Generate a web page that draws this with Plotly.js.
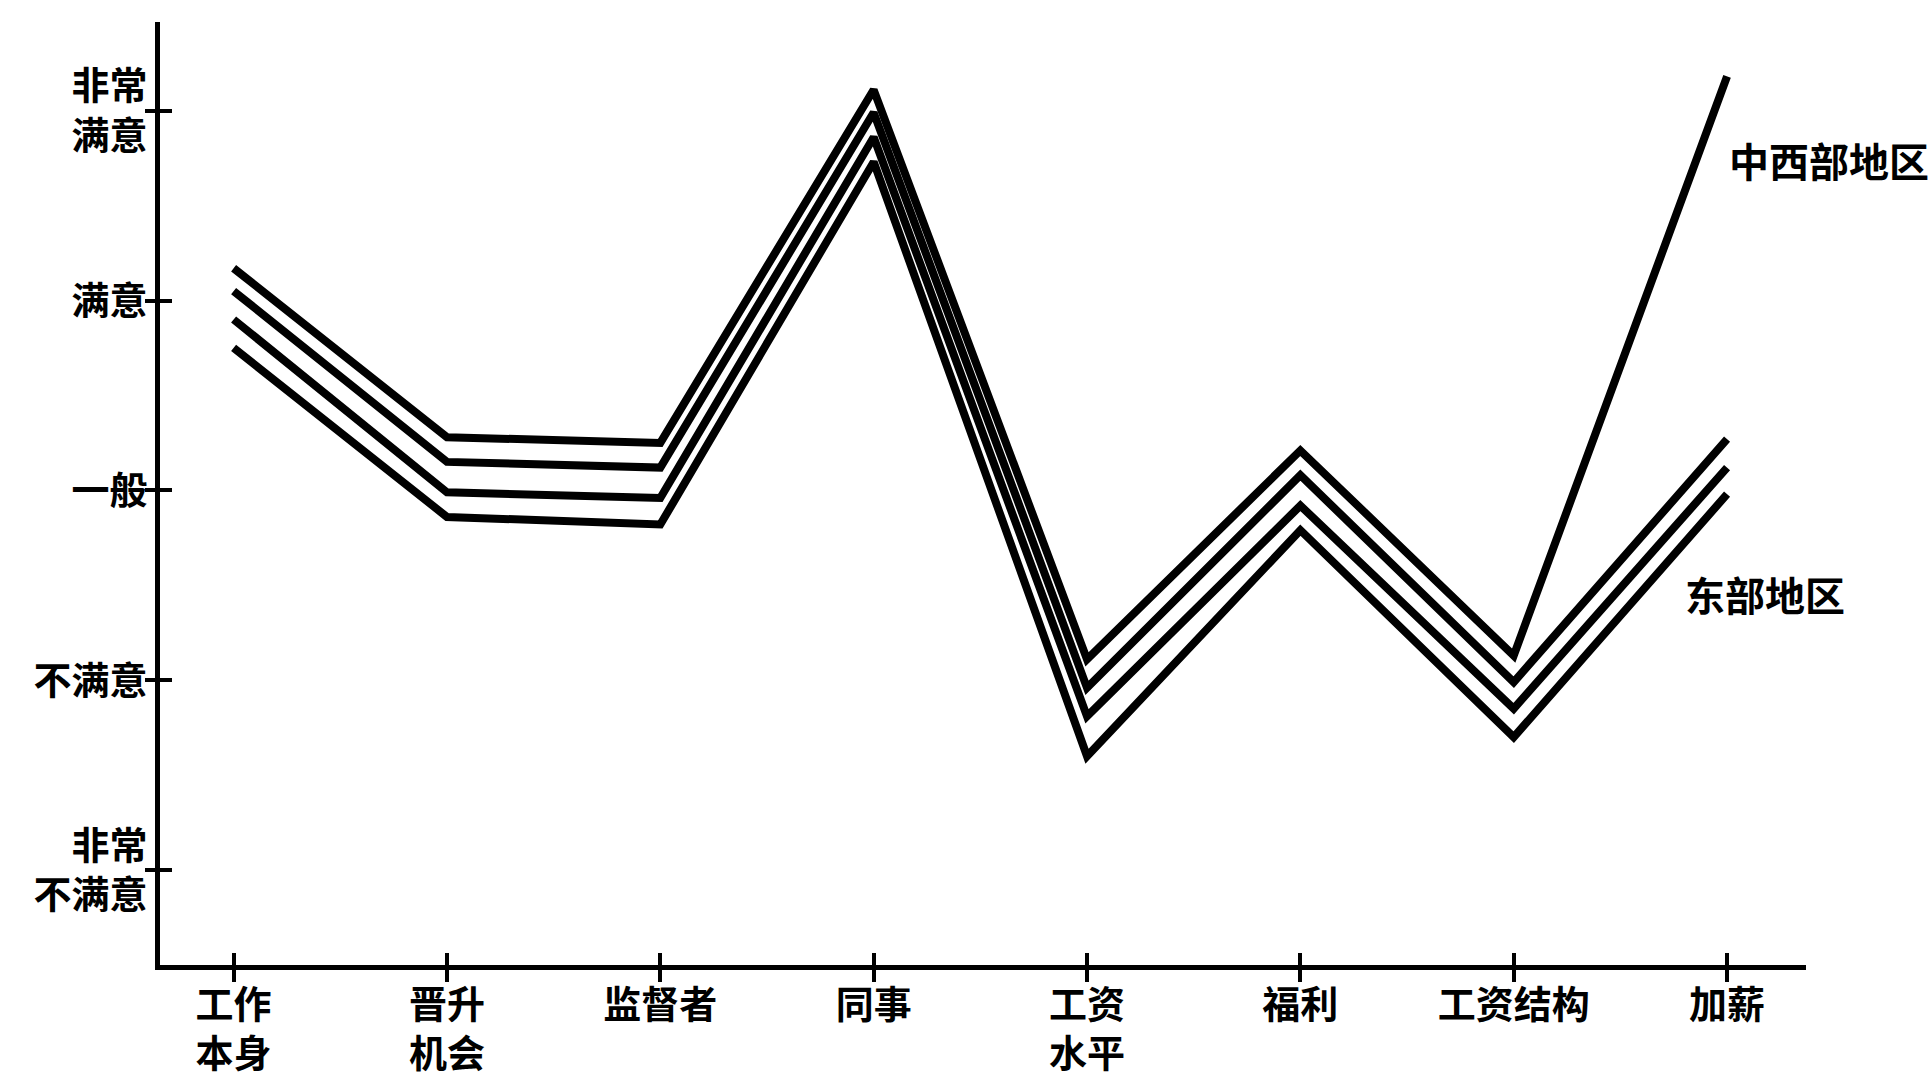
<!DOCTYPE html>
<html>
<head>
<meta charset="utf-8">
<script src="https://cdn.plot.ly/plotly-3.0.1.min.js"></script>
<style>
  html, body { margin: 0; padding: 0; background: #ffffff; }
  #chart { width: 1929px; height: 1086px; }
</style>
</head>
<body>
<div id="chart"></div>
<script>
// Categories (x axis)
const categories = ['工作<br>本身', '晋升<br>机会', '监督者', '同事', '工资<br>水平', '福利', '工资结构', '加薪'];

// Y-axis scale
const levelValues = [5, 4, 3, 2, 1];
const levelLabels = ['非常<br>满意', '满意', '一般', '不满意', '非常<br>不满意'];

// Series values, top line first
const lineA = [4.17, 3.28, 3.25, 5.11, 2.11, 3.21, 2.13, 5.18];   // 中西部地区
const lineB = [4.05, 3.15, 3.12, 4.99, 1.96, 3.08, 1.99, 3.27];
const lineC = [3.90, 2.99, 2.96, 4.86, 1.81, 2.92, 1.85, 3.12];
const lineD = [3.75, 2.86, 2.82, 4.73, 1.60, 2.79, 1.70, 2.98];   // 东部地区 group

const seriesNames = ['中西部地区', '东部地区 1', '东部地区 2', '东部地区 3'];
const seriesList = [lineA, lineB, lineC, lineD];

const labelWest = '中西部地区';
const labelEast = '东部地区';

const FONT = '"Noto Sans CJK SC", "Noto Sans CJK TC", sans-serif';

const traces = seriesList.map((vals, i) => ({
  type: 'scatter',
  mode: 'lines',
  name: seriesNames[i],
  x: categories,
  y: vals,
  line: { color: '#000000', width: 8 },
  hoverinfo: 'skip',
  showlegend: false
}));

// invisible trace carrying the secondary (inside-tick) axes
traces.push({
  type: 'scatter', mode: 'lines', x: categories, y: lineD,
  xaxis: 'x2', yaxis: 'y2',
  line: { color: 'rgba(0,0,0,0)', width: 0 },
  hoverinfo: 'skip', showlegend: false
});

const xRange = [-0.345, 7.37];
const yRange = [0.5, 5.467];

const layout = {
  width: 1929,
  height: 1086,
  paper_bgcolor: '#ffffff',
  plot_bgcolor: '#ffffff',
  margin: { l: 160, r: 123, t: 22, b: 121 },
  showlegend: false,
  font: { family: FONT, color: '#000000', size: 38, weight: 'bold' },
  xaxis: {
    type: 'category',
    categoryorder: 'array',
    categoryarray: categories,
    range: xRange,
    showgrid: false,
    zeroline: false,
    showline: true,
    linecolor: '#000000',
    linewidth: 5,
    ticks: 'outside',
    ticklen: 12,
    tickwidth: 4,
    tickcolor: '#000000',
    ticklabelstandoff: -10,
    tickfont: { family: FONT, size: 38, color: '#000000', weight: 'bold' },
    fixedrange: true
  },
  yaxis: {
    range: yRange,
    tickmode: 'array',
    tickvals: levelValues,
    ticktext: levelLabels,
    showgrid: false,
    zeroline: false,
    showline: true,
    linecolor: '#000000',
    linewidth: 5,
    ticks: 'outside',
    ticklen: 10,
    tickwidth: 4,
    tickcolor: '#000000',
    ticklabelstandoff: -10,
    tickfont: { family: FONT, size: 38, color: '#000000', weight: 'bold' },
    fixedrange: true
  },
  xaxis2: {
    type: 'category',
    categoryorder: 'array',
    categoryarray: categories,
    overlaying: 'x',
    range: xRange,
    showgrid: false,
    zeroline: false,
    showline: false,
    ticks: 'inside',
    ticklen: 12,
    tickwidth: 4,
    tickcolor: '#000000',
    showticklabels: false,
    fixedrange: true
  },
  yaxis2: {
    overlaying: 'y',
    range: yRange,
    tickmode: 'array',
    tickvals: levelValues,
    showgrid: false,
    zeroline: false,
    showline: false,
    ticks: 'inside',
    ticklen: 12,
    tickwidth: 4,
    tickcolor: '#000000',
    showticklabels: false,
    fixedrange: true
  },
  annotations: [
    {
      text: labelWest,
      xref: 'x', yref: 'y',
      x: 7.0, y: 4.74,
      xanchor: 'left', yanchor: 'middle',
      showarrow: false,
      font: { family: FONT, size: 40, color: '#000000', weight: 'bold' }
    },
    {
      text: labelEast,
      xref: 'x', yref: 'y',
      x: 6.795, y: 2.454,
      xanchor: 'left', yanchor: 'middle',
      showarrow: false,
      font: { family: FONT, size: 40, color: '#000000', weight: 'bold' }
    }
  ]
};

Plotly.newPlot('chart', traces, layout, { displayModeBar: false, staticPlot: true });
</script>
</body>
</html>
